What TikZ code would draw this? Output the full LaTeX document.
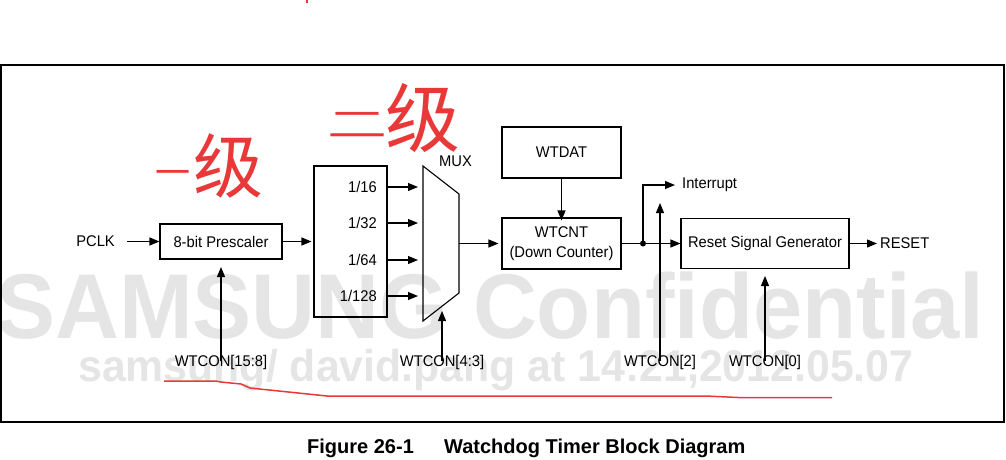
\documentclass[tikz,border=0pt]{standalone}
\usepackage{fontspec}
\usepackage{graphicx}
\setmainfont[FakeStretch=0.95]{Liberation Sans}
\newfontfamily\capfont{Liberation Sans}
\newfontfamily\wmfont[FakeStretch=0.962]{Liberation Sans}
\newfontfamily\cjk{Noto Sans CJK SC}
\usetikzlibrary{arrows.meta,calc}
\definecolor{wm}{RGB}{229,229,229}
\definecolor{pen}{RGB}{232,56,56}
\begin{document}
\begin{tikzpicture}[x=1pt,y=-1pt,
  txt/.style={font=\fontsize{15.5}{20}\selectfont, inner sep=0pt},
  blk/.style={draw, line width=1.1pt, font=\fontsize{15.5}{20}\selectfont, align=center, inner sep=0pt},
  arr/.style={line width=1.1pt, -{Triangle[length=10pt,width=8pt]}},
  ln/.style={line width=1.1pt},
  hand/.style={text=pen, inner sep=0pt, font=\cjk}
]
\useasboundingbox (0,0) rectangle (1006,459);
% watermark
\node[anchor=base west, inner sep=0pt, text=wm, font=\wmfont\fontsize{92}{92}\selectfont\bfseries] (wm1) at (-4,338) {SAMSUNG Confidential};
\node[anchor=base west, inner sep=0pt, text=wm, font=\wmfont\fontsize{44.5}{45}\selectfont\bfseries] (wm2) at (78,381) {samsung/ david.pang at 14:21,2012.05.07};
% frame
\draw[line width=2pt] (1,65) rectangle (1004,422);
% blocks
\node[txt, anchor=east] (pclk) at (115,241.5) {PCLK};
\node[blk, minimum width=122pt, minimum height=35pt] (pre) at (221,241.5) {8-bit Prescaler};
\node[blk, minimum width=73pt, minimum height=151pt] (div) at (350.5,241.5) {};
\node[txt, anchor=east] (d16) at (377,187) {1/16};
\node[txt, anchor=east] (d32) at (377,223) {1/32};
\node[txt, anchor=east] (d64) at (377,260) {1/64};
\node[txt, anchor=east] (d128) at (377,296) {1/128};
\coordinate (m1) at (423,166);
\coordinate (m2) at (459,194);
\coordinate (m3) at (459,293);
\coordinate (m4) at (423,321);
\draw[ln] (m1) -- (m2) -- (m3) -- (m4) -- cycle;
\coordinate (mo) at (459,243.5);
\node[txt] (muxl) at (455.5,161) {MUX};
\coordinate (i16) at (418,187);
\coordinate (i32) at (418,223);
\coordinate (i64) at (418,260);
\coordinate (i128) at (418,296);
\node[blk, minimum width=119pt, minimum height=51pt] (wtdat) at (561.5,152.5) {WTDAT};
\node[blk, minimum width=119pt, minimum height=51pt] (wtcnt) at (561.5,243.5) {WTCNT\\(Down Counter)};
\node[blk, minimum width=168pt, minimum height=50pt] (rsg) at (765,243.5) {Reset Signal Generator};
\node[txt, anchor=west] (rst) at (880,243.5) {RESET};
\node[txt, anchor=west] (intr) at (682,185) {Interrupt};
\coordinate (jn) at (643,243.5);
\coordinate (jt) at (643,185);
% connectors
\draw[arr] (pclk.east) ++(12,0) coordinate (pc0) (pc0) -- (pre.west);
\draw[arr] (pre.east) -- ([xshift=-2pt]div.west);
\draw[arr] (div.east |- d16) -- (i16);
\draw[arr] (div.east |- d32) -- (i32);
\draw[arr] (div.east |- d64) -- (i64);
\draw[arr] (div.east |- d128) -- (i128);
\draw[arr] (mo) -- ([xshift=-3pt]wtcnt.west);
\draw[arr] (wtdat.south) -- ([yshift=-3pt]wtcnt.north);
\draw[arr] (wtcnt.east) -- (rsg.west);
\fill (jn) circle (3pt);
\draw[arr] (jn) -- (jt) -- ([xshift=-7pt]intr.west);
\draw[arr] (rsg.east) -- ([xshift=-3pt]rst.west);
% control inputs
\node[txt] (c158) at (221,362) {WTCON[15:8]};
\node[txt] (c43) at (442,362) {WTCON[4:3]};
\node[txt] (c2) at (660,362) {WTCON[2]};
\node[txt] (c0) at (765,362) {WTCON[0]};
\coordinate (t158) at (221,267);
\coordinate (t43) at (442,311);
\coordinate (t2) at (660,203);
\coordinate (t0) at (765,276);
\draw[arr] ([yshift=-6pt]c158.north) -- (t158);
\draw[arr] ([yshift=-6pt]c43.north) -- (t43);
\draw[arr] ([yshift=-6pt]c2.north) -- (t2);
\draw[arr] ([yshift=-6pt]c0.north) -- (t0);
% caption
\node[anchor=base west, inner sep=0pt, font=\capfont\fontsize{20}{20}\selectfont\bfseries] (cap1) at (307,453) {Figure 26-1};
\node[anchor=base west, inner sep=0pt, font=\capfont\fontsize{20}{20}\selectfont\bfseries] (cap2) at (444,453) {Watchdog Timer Block Diagram};
% handwriting
\node[hand, font=\cjk\fontsize{35}{35}\selectfont] (h1) at (173,178) {一};
\node[hand, font=\cjk\fontsize{70}{70}\selectfont] (h2) at (228,166) {级};
\node[hand, font=\cjk\fontsize{60}{60}\selectfont] (h3) at (357,125) {\scalebox{1}[0.6]{二}};
\node[hand, font=\cjk\fontsize{75}{75}\selectfont] (h4) at (423,118) {级};
\draw[pen, line width=1.5pt, line join=round] (164,381) -- (215,381) -- (221,382) -- (241,384) -- (250,388) -- (327,396) -- (706,396) -- (738,397.5) -- (832,397.5);
\fill[pen] (306,0) rectangle (308,3);
\end{tikzpicture}
\end{document}
